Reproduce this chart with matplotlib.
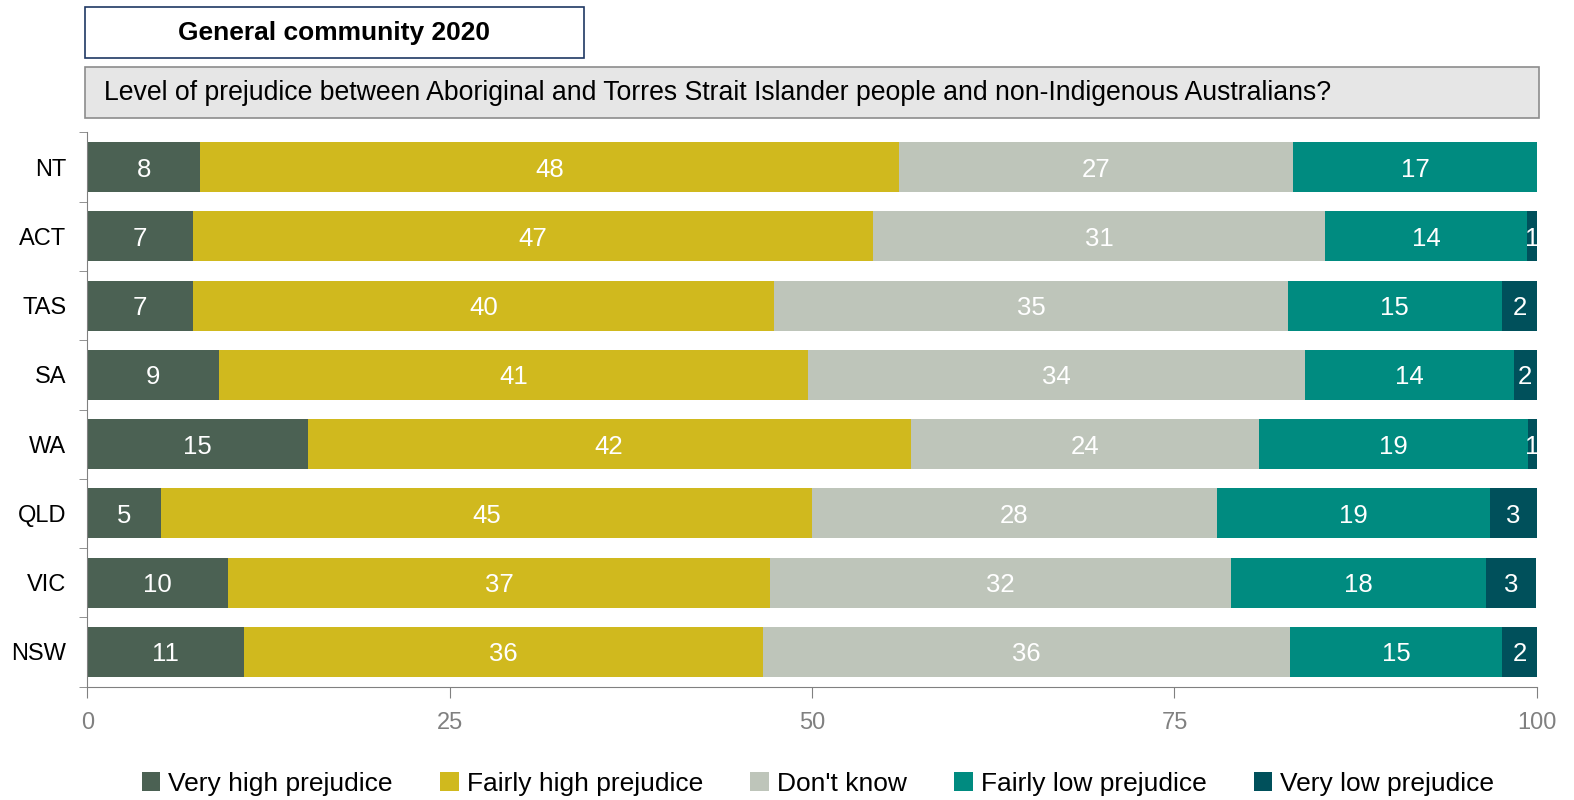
#Stacked bar chart of prejudice levels by state

import numpy as np
import matplotlib
matplotlib.use('Agg')
import matplotlib.pyplot as plt
from matplotlib.patches import Rectangle

#data (percent), listed bottom to top
states = ['NSW', 'VIC', 'QLD', 'WA', 'SA', 'TAS', 'ACT', 'NT']
very_high = [10.8, 9.7, 5.1, 15.2, 9.1, 7.3, 7.3, 7.8]
fairly_high = [35.8, 37.4, 44.9, 41.6, 40.6, 40.1, 46.9, 48.2]
dont_know = [36.4, 31.8, 27.9, 24.0, 34.3, 35.4, 31.2, 27.2]
fairly_low = [14.6, 17.6, 18.9, 18.6, 14.4, 14.8, 13.9, 16.8]
very_low = [2.4, 3.45, 3.2, 0.6, 1.6, 2.4, 0.7, 0.0]

series_names = ['Very high prejudice', 'Fairly high prejudice', "Don't know",
                'Fairly low prejudice', 'Very low prejudice']
colors = ['#4B6153', '#D0B91E', '#BEC5BA', '#008B80', '#00505B']

plt.rcParams['font.family'] = ['Liberation Sans', 'DejaVu Sans']

W, H = 1568, 797  # coordinates below measured at this scale
fig = plt.figure(figsize=(15.74, 8), dpi=100)
ax = fig.add_axes([87/W, 1-684/H, 1444/W, 552/H])

y = np.arange(len(states))
left = np.zeros(len(states))
data = [very_high, fairly_high, dont_know, fairly_low, very_low]
for vals, name, col in zip(data, series_names, colors):
    vals = np.array(vals)
    ax.barh(y, vals, left=left, height=0.72, color=col, label=name, edgecolor='none')
    for yi, (l, v) in enumerate(zip(left, vals)):
        if v > 0:
            ax.text(l + v/2, yi, f'{v:.0f}', ha='center', va='center_baseline',
                    color='white', fontsize=18.5)
    left = left + vals

ax.set_xlim(0, 100)
ax.set_ylim(-0.5, len(states) - 0.5)
ax.set_xticks([0, 25, 50, 75, 100])
ax.set_yticks(y)
ax.set_yticklabels(states, fontsize=17)
ax.set_yticks(np.arange(-0.5, len(states)), minor=True)
ax.tick_params(axis='y', which='major', length=0, pad=15)
ax.tick_params(axis='y', which='minor', length=6, color='#808080')
ax.tick_params(axis='x', length=8, color='#808080', labelcolor='#808080', labelsize=17, pad=10)
for s in ['top', 'right']:
    ax.spines[s].set_visible(False)
ax.spines['left'].set_color('#808080')
ax.spines['bottom'].set_color('#808080')

#title boxes
fig.patches.append(Rectangle((85/W, 1-58/H), 497/W, 51/H, transform=fig.transFigure,
                             facecolor='white', edgecolor='#1F3864', linewidth=1.2))
fig.text(333/W, 1-33/H, 'General community 2020', ha='center', va='center',
         fontsize=19, fontweight='bold')
fig.patches.append(Rectangle((85/W, 1-118/H), 1448/W, 51/H, transform=fig.transFigure,
                             facecolor='#E6E6E6', edgecolor='#8C8C8C', linewidth=1.2))
fig.text(104/W, 1-93/H,
         'Level of prejudice between Aboriginal and Torres Strait Islander people and non-Indigenous Australians?',
         ha='left', va='center', fontsize=19.2)

fig.legend(loc='center', bbox_to_anchor=(815/W, 1-781/H), ncol=5, frameon=False,
           prop={'size': 19}, handlelength=0.7, handleheight=0.7,
           handletextpad=0.3, columnspacing=1.8)

plt.savefig('out.png', dpi=100)
